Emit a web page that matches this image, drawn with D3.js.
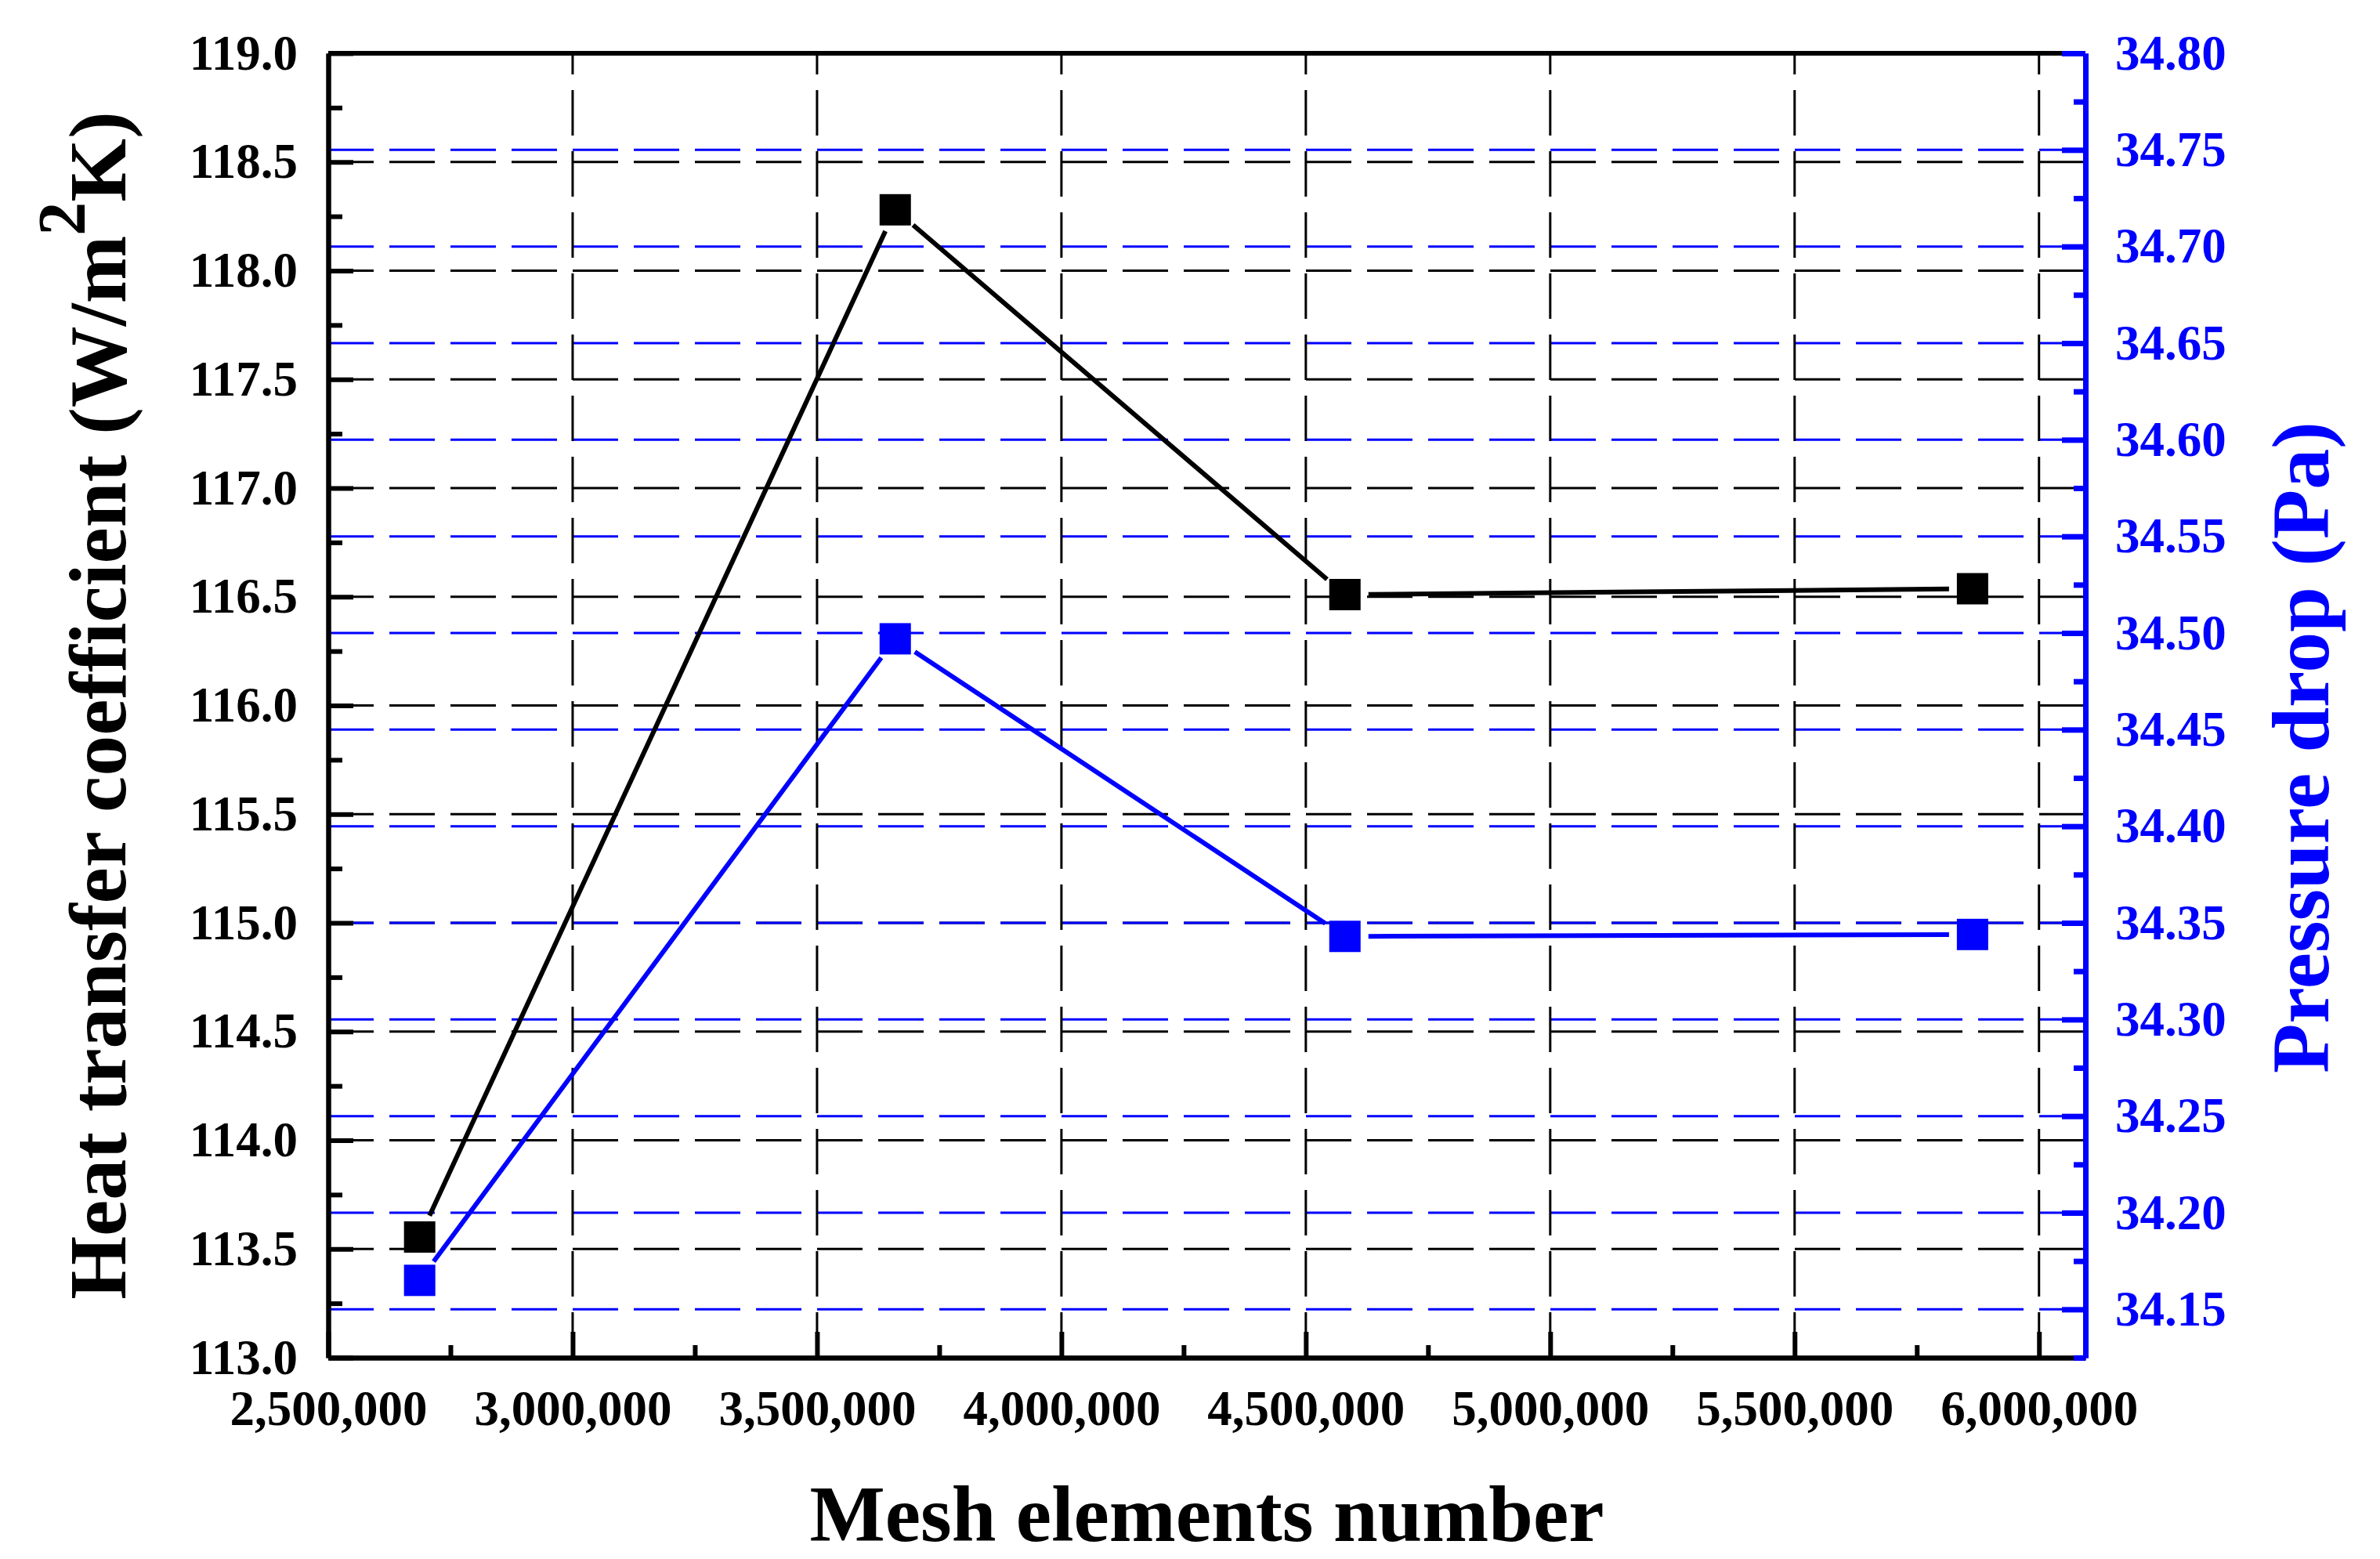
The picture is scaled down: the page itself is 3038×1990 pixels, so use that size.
<!DOCTYPE html>
<html>
<head>
<meta charset="utf-8">
<script src="https://cdn.jsdelivr.net/npm/d3@7"></script>
<style>
  body { margin: 0; background: #fff; }
  text { font-family: "Liberation Serif", "Times New Roman", serif; font-weight: bold; }
</style>
</head>
<body>
<div class="chart"></div>
<script>
// data
var meshElements = [2687000, 3660000, 4580000, 5864000];
var heatTransfer = [113.555, 118.28, 116.51, 116.537];
var pressureDrop = [34.165, 34.497, 34.343, 34.344];

var xTicks = [2500000, 3000000, 3500000, 4000000, 4500000, 5000000, 5500000, 6000000];
var leftTicks = [113.0, 113.5, 114.0, 114.5, 115.0, 115.5, 116.0, 116.5, 117.0, 117.5, 118.0, 118.5, 119.0];
var rightTicks = [34.15, 34.20, 34.25, 34.30, 34.35, 34.40, 34.45, 34.50, 34.55, 34.60, 34.65, 34.70, 34.75, 34.80];

var svgWidth = 3038;
var svgHeight = 1990;

// plot frame (window.top is read-only, so don't call it "top")
var plotLeft = 419, plotRight = 2662, plotTop = 68, plotBottom = 1733;
var blue = "#0000ff";

var svg = d3.select(".chart")
  .append("svg")
  .attr("width", svgWidth)
  .attr("height", svgHeight)
  .style("display", "block");

svg.append("rect").attr("width", svgWidth).attr("height", svgHeight).attr("fill", "#fff");

var x = d3.scaleLinear().domain([2500000, 6095000]).range([plotLeft, plotRight]);
var yL = d3.scaleLinear().domain([113, 119]).range([plotBottom, plotTop]);
var yR = d3.scaleLinear().domain([34.125, 34.80]).range([plotBottom, plotTop]);

var dash = "58 20";

// grid lines
svg.append("g").selectAll("line")
  .data(leftTicks.filter(d => d > 113 && d < 119))
  .enter().append("line")
  .attr("x1", plotLeft).attr("x2", plotRight)
  .attr("y1", d => yL(d)).attr("y2", d => yL(d))
  .attr("stroke", "#000").attr("stroke-width", 3).attr("stroke-dasharray", dash);

svg.append("g").selectAll("line")
  .data(rightTicks.filter(d => d < 34.8))
  .enter().append("line")
  .attr("x1", plotLeft).attr("x2", plotRight)
  .attr("y1", d => yR(d)).attr("y2", d => yR(d))
  .attr("stroke", blue).attr("stroke-width", 3).attr("stroke-dasharray", dash);

svg.append("g").selectAll("line")
  .data(xTicks.slice(1))
  .enter().append("line")
  .attr("x1", d => x(d)).attr("x2", d => x(d))
  .attr("y1", plotBottom).attr("y2", plotTop)
  .attr("stroke", "#000").attr("stroke-width", 3).attr("stroke-dasharray", dash);

// minor tick positions
var xMinor = d3.range(2750000, 6095000, 500000);
var leftMinor = d3.range(113.25, 119, 0.5);
var rightMinor = d3.range(34.125, 34.8, 0.05);

function styleAxis(g, color, width, size) {
  g.select(".domain").attr("stroke", color).attr("stroke-width", width);
  g.selectAll(".tick line").attr("stroke", color).attr("stroke-width", width);
  g.selectAll(".tick text").attr("fill", color).style("font-size", size + "px");
}

// top border
svg.append("line")
  .attr("x1", plotLeft).attr("x2", plotRight).attr("y1", plotTop).attr("y2", plotTop)
  .attr("stroke", "#000").attr("stroke-width", 6);

// bottom axis
svg.append("g")
  .attr("transform", `translate(0, ${plotBottom})`)
  .call(d3.axisBottom(x).tickValues(xMinor).tickSize(-16).tickSizeOuter(0).tickFormat(""))
  .call(g => styleAxis(g, "#000", 6, 63));
svg.append("g")
  .attr("transform", `translate(0, ${plotBottom})`)
  .call(d3.axisBottom(x).tickValues(xTicks).tickSize(-33).tickSizeOuter(0).tickPadding(41).tickFormat(d3.format(",")))
  .call(g => styleAxis(g, "#000", 6, 63));

// left axis
svg.append("g")
  .attr("transform", `translate(${plotLeft}, 0)`)
  .call(d3.axisLeft(yL).tickValues(leftMinor).tickSize(-18).tickSizeOuter(0).tickFormat(""))
  .call(g => styleAxis(g, "#000", 6, 63));
svg.append("g")
  .attr("transform", `translate(${plotLeft}, 0)`)
  .call(d3.axisLeft(yL).tickValues(leftTicks).tickSize(-32).tickSizeOuter(0).tickPadding(39).tickFormat(d3.format(".1f")))
  .call(g => styleAxis(g, "#000", 6, 63));

// right axis
svg.append("g")
  .attr("transform", `translate(${plotRight}, 0)`)
  .call(d3.axisRight(yR).tickValues(rightMinor).tickSize(-15).tickSizeOuter(0).tickFormat(""))
  .call(g => styleAxis(g, blue, 7, 63));
svg.append("g")
  .attr("transform", `translate(${plotRight}, 0)`)
  .call(d3.axisRight(yR).tickValues(rightTicks).tickSize(-30).tickSizeOuter(0).tickPadding(38).tickFormat(d3.format(".2f")))
  .call(g => styleAxis(g, blue, 7, 63));

// series: lines stop short of the symbols, as in the original
var gap = 30;
function drawSeries(ys, yScale, color) {
  var pts = meshElements.map((m, i) => [x(m), yScale(ys[i])]);
  var segs = d3.pairs(pts).map(function(p) {
    var dx = p[1][0] - p[0][0], dy = p[1][1] - p[0][1];
    var len = Math.sqrt(dx * dx + dy * dy);
    var ux = dx / len, uy = dy / len;
    return [p[0][0] + ux * gap, p[0][1] + uy * gap, p[1][0] - ux * gap, p[1][1] - uy * gap];
  });
  svg.append("g").selectAll("line")
    .data(segs)
    .enter().append("line")
    .attr("x1", d => d[0]).attr("y1", d => d[1])
    .attr("x2", d => d[2]).attr("y2", d => d[3])
    .attr("stroke", color).attr("stroke-width", 6);
  svg.append("g").selectAll("rect")
    .data(pts)
    .enter().append("rect")
    .attr("x", d => d[0] - 20).attr("y", d => d[1] - 20)
    .attr("width", 40).attr("height", 40)
    .attr("fill", color);
}
drawSeries(heatTransfer, yL, "#000");
drawSeries(pressureDrop, yR, blue);

// axis titles
svg.append("text")
  .attr("x", (plotLeft + plotRight) / 2)
  .attr("y", 1967)
  .attr("text-anchor", "middle")
  .style("font-size", "102px")
  .text("Mesh elements number");

var yTitle = svg.append("text")
  .attr("transform", `translate(160, ${(plotTop + plotBottom) / 2}) rotate(-90)`)
  .attr("text-anchor", "middle")
  .style("font-size", "104px");
yTitle.append("tspan").text("Heat transfer coefficient (W/m");
yTitle.append("tspan").attr("dy", -52).style("font-size", "86px").text("2");
yTitle.append("tspan").attr("dy", 52).text("K)");

svg.append("text")
  .attr("transform", "translate(2972, 954) rotate(-90)")
  .attr("text-anchor", "middle")
  .attr("fill", blue)
  .style("font-size", "104px")
  .text("Pressure drop (Pa)");
</script>
</body>
</html>
